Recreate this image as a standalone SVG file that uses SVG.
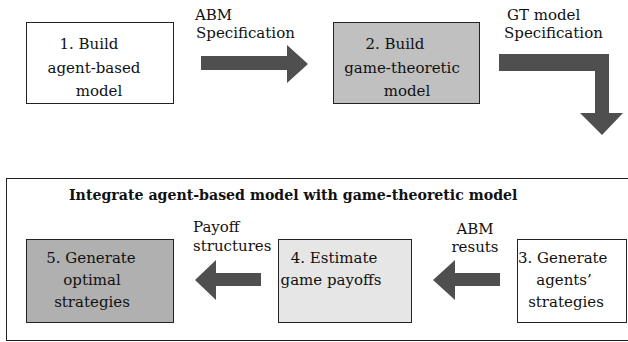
<svg xmlns="http://www.w3.org/2000/svg" width="628" height="342" viewBox="0 0 628 342">
<style>
text{font-family:"DejaVu Serif","Liberation Serif",serif;font-size:15px;fill:#111}
.c{text-anchor:middle}
.box{stroke:#222;stroke-width:1}
.arr{fill:#4f4f4f}
.title{font-weight:bold;font-size:14.15px}
</style>
<rect width="628" height="342" fill="#fff"/>
<g id="container">
<rect x="6.5" y="178.5" width="630" height="162" fill="none" stroke="#222" stroke-width="1"/>
<text class="title" x="69" y="200">Integrate agent-based model with game-theoretic model</text>
</g>
<g id="node1">
<rect class="box" x="26.5" y="22.5" width="147" height="81" fill="#fff"/>
<text class="c" x="89" y="49">1. Build</text>
<text class="c" x="94" y="73">agent-based</text>
<text class="c" x="99" y="96">model</text>
</g>
<g id="node2">
<rect class="box" x="333.5" y="22.5" width="146" height="81" fill="#c0c0c0"/>
<text class="c" x="395" y="49">2. Build</text>
<text class="c" x="402" y="73">game-theoretic</text>
<text class="c" x="407" y="96">model</text>
</g>
<g id="node3">
<rect class="box" x="517.5" y="239.5" width="109" height="83" fill="#fff"/>
<text x="518" y="263">3. Generate</text>
<text class="c" x="564" y="285">agents’</text>
<text class="c" x="566" y="307">strategies</text>
</g>
<g id="node4">
<rect class="box" x="278.5" y="239.5" width="133" height="83" fill="#e6e6e6"/>
<text class="c" x="334" y="263">4. Estimate</text>
<text class="c" x="331" y="285">game payoffs</text>
</g>
<g id="node5">
<rect class="box" x="26.5" y="239.5" width="147" height="83" fill="#b0b0b0"/>
<text class="c" x="91" y="263">5. Generate</text>
<text class="c" x="92" y="285">optimal</text>
<text class="c" x="92" y="307">strategies</text>
</g>
<g id="connectors">
<polygon class="arr" points="201,56 287,56 287,45 308,64 287,83 287,70 201,70"/>
<polygon class="arr" points="499,54 609,54 609,113 623,113 602,135 580,113 595,113 595,71 499,71"/>
<polygon class="arr" points="500,273 455,273 455,260 433,280 455,300 455,286 500,286"/>
<polygon class="arr" points="261,273 216,273 216,260 195,280 216,300 216,286 261,286"/>
<text x="195" y="20">ABM</text>
<text x="196" y="38">Specification</text>
<text x="507" y="20">GT model</text>
<text x="504" y="38">Specification</text>
<text x="193" y="232">Payoff</text>
<text x="193" y="251">structures</text>
<text class="c" x="475" y="234">ABM</text>
<text class="c" x="475" y="252">resuts</text>
</g>
</svg>
